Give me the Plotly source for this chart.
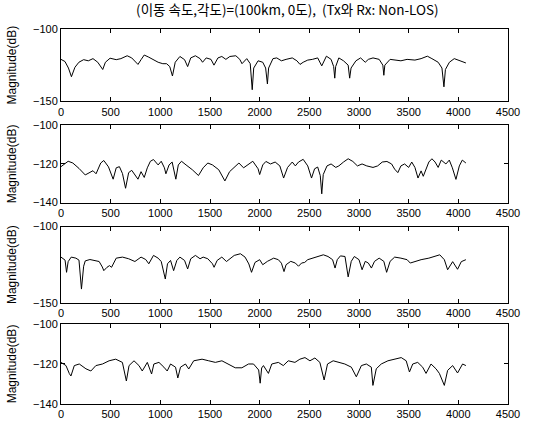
import plotly.graph_objects as go
from plotly.subplots import make_subplots

# Channel magnitude responses (dB) over frequency sample index, four receive branches
x1 = [0, 40, 75, 105, 140, 180, 228, 275, 322, 370, 420, 447, 494, 556, 603, 666, 712, 750, 775, 806,
      838, 884, 931, 978, 1025, 1063, 1095, 1122, 1150, 1197, 1244, 1275, 1306, 1353, 1400, 1425, 1462,
      1510, 1540, 1580, 1619, 1660, 1700, 1760, 1800, 1822, 1870, 1905, 1925, 1940, 1984, 2031, 2060,
      2078, 2090, 2134, 2172, 2219, 2266, 2328, 2375, 2406, 2438, 2484, 2531, 2584, 2625, 2672, 2719,
      2745, 2756, 2765, 2797, 2844, 2891, 2906, 2920, 2969, 3016, 3063, 3094, 3141, 3203, 3240, 3250,
      3260, 3313, 3359, 3422, 3484, 3563, 3625, 3688, 3734, 3797, 3835, 3855, 3870, 3910, 3959, 4026, 4076]
y1 = [-121, -122.5, -127, -133, -126.5, -123, -121.2, -122, -120.5, -123, -128, -123, -120.2, -121.2,
      -120.5, -118.5, -120, -123, -124.5, -121.2, -118, -119.5, -121.2, -123, -124, -124, -126, -132.5,
      -123, -119, -121.2, -126, -120, -118.5, -120.5, -123, -120, -121, -125, -120, -119, -121, -119,
      -118.5, -121, -124, -120.5, -124, -142, -127, -122, -123, -127, -138, -127, -120.5, -120, -122,
      -121, -120, -122, -124.5, -123, -121.5, -121, -120, -125.5, -118.8, -121, -126, -134, -126, -120,
      -122, -125, -134, -127, -122, -120, -123, -121, -120, -121, -125, -132, -125, -121, -121.5, -122,
      -121, -121.5, -120.5, -118.8, -120.5, -123, -127, -140, -128, -123, -120.5, -122, -123.5]

x2 = [0, 72, 119, 181, 244, 291, 322, 353, 400, 431, 478, 525, 556, 588, 619, 650, 681, 712, 744, 775,
      806, 838, 869, 900, 931, 978, 1009, 1041, 1056, 1088, 1119, 1156, 1181, 1213, 1259, 1322, 1384,
      1431, 1478, 1525, 1588, 1650, 1697, 1744, 1791, 1838, 1884, 1931, 1984, 2000, 2031, 2063, 2109,
      2156, 2203, 2241, 2281, 2328, 2359, 2391, 2438, 2484, 2522, 2553, 2584, 2610, 2625, 2640, 2678,
      2719, 2766, 2797, 2844, 2891, 2938, 2984, 3031, 3078, 3141, 3188, 3234, 3281, 3328, 3359, 3391,
      3422, 3459, 3500, 3531, 3563, 3594, 3625, 3647, 3672, 3703, 3734, 3766, 3797, 3828, 3875, 3909,
      3940, 3976, 4010, 4040, 4076]
y2 = [-121.4, -118.6, -119.5, -122.3, -125.7, -124.2, -123.5, -125.1, -119.5, -118.2, -121.5, -127.9,
      -122, -121.4, -125, -132.6, -124.5, -123.3, -126, -127.9, -124, -127, -122, -118.6, -117.7, -120.5,
      -118.6, -122, -125.1, -120.5, -119, -127.9, -120.5, -118.6, -120.5, -123, -126, -122, -119.5,
      -120.5, -123, -128.8, -124, -121.5, -119.5, -122, -120.5, -118.6, -122.5, -125.5, -120.5, -118.7,
      -120, -119, -121, -127.3, -121.8, -119, -121, -119, -117.6, -121, -127.3, -122.5, -121.6, -126,
      -135.5, -125.5, -121, -120, -121.8, -121, -119, -117.3, -118.7, -121, -120, -121, -121.8, -121,
      -119, -118.7, -120, -122.7, -124.5, -121, -120, -121.8, -119, -121.8, -127.3, -123.6, -126.4,
      -122.7, -119, -117.3, -119, -121.8, -118, -120, -118, -122, -128, -121, -118, -119.5]

x3 = [0, 41, 56, 72, 103, 150, 181, 206, 228, 244, 291, 338, 384, 416, 431, 463, 488, 509, 556, 619,
      681, 744, 806, 853, 884, 931, 978, 1009, 1031, 1050, 1072, 1103, 1134, 1166, 1197, 1244, 1275,
      1306, 1353, 1400, 1431, 1478, 1525, 1541, 1572, 1619, 1666, 1697, 1744, 1806, 1853, 1891, 1918,
      1953, 2000, 2031, 2078, 2141, 2188, 2219, 2245, 2266, 2313, 2359, 2391, 2422, 2453, 2484, 2531,
      2578, 2641, 2688, 2734, 2759, 2781, 2813, 2859, 2891, 2922, 2953, 3000, 3031, 3063, 3094, 3125,
      3156, 3203, 3250, 3278, 3313, 3359, 3422, 3484, 3516, 3563, 3625, 3703, 3766, 3813, 3859, 3892,
      3943, 3992, 4030, 4076]
y3 = [-120, -122, -130, -123, -120, -120.7, -122, -141, -126, -122.5, -121.6, -122.2, -122.9, -126.5,
      -128.9, -126.7, -125.6, -126.7, -120.7, -120, -121.1, -122.9, -120, -121.6, -124.4, -118.9, -120.7,
      -122.9, -129, -134.4, -124.4, -122.2, -128.9, -122.2, -120, -122.2, -127.8, -121.1, -118.9, -121.1,
      -120, -121.1, -124.4, -126.7, -122.2, -120, -122.9, -121.1, -118.9, -117.8, -120, -124.5, -130,
      -123.5, -121.7, -125, -122.8, -120.7, -121.7, -124, -129.5, -125, -122.8, -123.9, -126, -123.9,
      -123.5, -121.7, -120.7, -119.6, -118.5, -119.6, -121.7, -127.2, -121.7, -119.2, -119.6, -133,
      -122.8, -119.6, -121.7, -128.3, -122.8, -123.9, -127.2, -122.8, -120.7, -122.8, -130, -122.8,
      -120, -120.7, -121.7, -123.9, -122.8, -121.7, -120.7, -119.6, -118.5, -121.7, -128.3, -123,
      -128, -123, -121.7]

x4 = [0, 50, 84, 100, 134, 184, 251, 301, 351, 418, 484, 551, 618, 658, 685, 735, 785, 818, 869, 912,
      935, 986, 1036, 1069, 1103, 1153, 1176, 1203, 1253, 1286, 1336, 1420, 1487, 1554, 1620, 1687,
      1754, 1821, 1888, 1938, 1990, 2005, 2020, 2038, 2088, 2122, 2188, 2238, 2288, 2355, 2405, 2456,
      2506, 2556, 2606, 2649, 2683, 2740, 2790, 2857, 2923, 2973, 3024, 3074, 3124, 3140, 3174, 3224,
      3291, 3358, 3425, 3475, 3508, 3541, 3591, 3641, 3675, 3725, 3775, 3809, 3859, 3892, 3943, 3992,
      4043, 4076]
y4 = [-119.2, -120.8, -124.8, -126, -120.8, -120, -122.4, -123.5, -120.8, -120, -118.4, -117.6, -119.2,
      -128.5, -120.8, -118.4, -120.8, -123.5, -119.2, -125, -120, -119.2, -121.6, -123.5, -120, -121.6,
      -127, -121.6, -120, -122.5, -118.4, -117.6, -118.4, -119.2, -118.4, -120, -121.9, -121.9, -120,
      -120, -123, -129.6, -122, -120.8, -124.7, -120, -119.2, -120.8, -118.4, -119.2, -117.6, -116.8,
      -118.4, -117, -119.2, -128, -120, -118.4, -119.2, -120, -121.6, -126.4, -120.8, -120, -121.6,
      -130.7, -122.4, -120, -118.4, -117.6, -116.8, -118.4, -124, -120, -119.2, -121.6, -124.7, -120,
      -122.4, -124.7, -130.7, -123.2, -120.8, -124.5, -120, -120.8]

series = [(x1, y1), (x2, y2), (x3, y3), (x4, y4)]
y_ranges = [(-150, -100), (-140, -100), (-150, -100), (-140, -100)]
y_ticks = [[-150, -100], [-140, -120, -100], [-150, -100], [-140, -120, -100]]
x_ticks = [0, 500, 1000, 1500, 2000, 2500, 3000, 3500, 4000, 4500]

title_text = "(이동 속도,각도)=(100km, 0도),  (Tx와 Rx: Non-LOS)"
y_title = "Magnitude(dB)"

fig = make_subplots(rows=4, cols=1)

# Panel extents in paper coordinates (top to bottom)
domains = [(0.8072, 1.0), (0.5373, 0.7429), (0.2699, 0.4730), (0.0, 0.2134)]

font_family = "Liberation Sans, Arial, sans-serif"

for i, (xs, ys) in enumerate(series):
    r = i + 1
    fig.add_trace(
        go.Scatter(x=xs, y=ys, mode="lines",
                   line=dict(color="black", width=1),
                   showlegend=False, hoverinfo="skip"),
        row=r, col=1)
    fig.update_xaxes(range=[0, 4500], tickvals=x_ticks, ticks="inside", ticklen=4,
                     tickcolor="black", showline=True, linecolor="black", linewidth=1,
                     mirror="allticks", showgrid=False, zeroline=False,
                     tickfont=dict(family=font_family, size=11, color="black"),
                     domain=[0, 1], row=r, col=1)
    fig.update_yaxes(range=list(y_ranges[i]), tickvals=y_ticks[i], ticks="inside", ticklen=4,
                     tickcolor="black", showline=True, linecolor="black", linewidth=1,
                     mirror="allticks", showgrid=False, zeroline=False,
                     tickfont=dict(family=font_family, size=11, color="black"),
                     title=dict(text=y_title, standoff=13,
                                font=dict(family=font_family, size=12, color="black")),
                     domain=list(domains[i]), row=r, col=1)

fig.update_layout(
    width=558, height=432,
    margin=dict(l=60, r=50, t=29, b=14),
    paper_bgcolor="white", plot_bgcolor="white",
    title=dict(text=title_text, x=0.515, xanchor="center", y=0.988, yanchor="top",
               font=dict(family="Noto Sans CJK KR, " + font_family, size=13.5, color="black")),
)

fig.write_html("out.html")
